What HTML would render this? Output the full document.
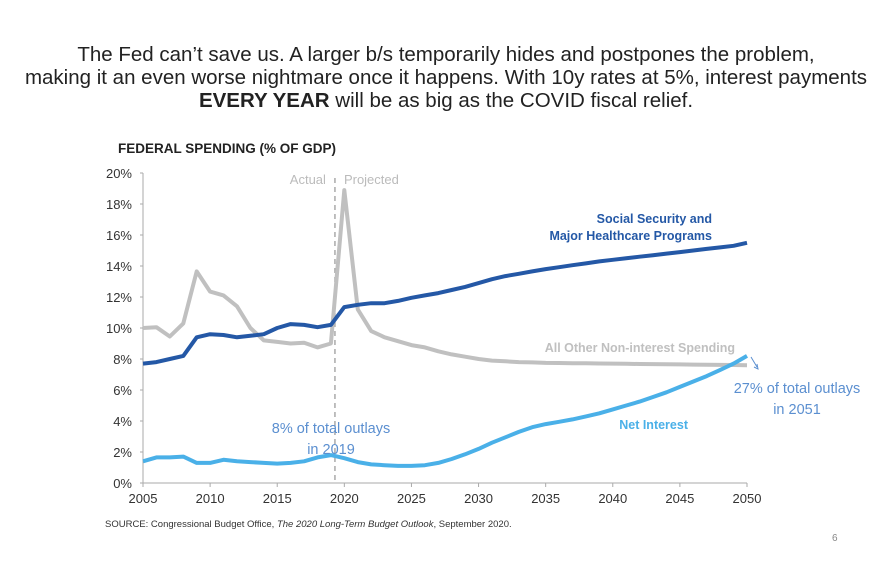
<!DOCTYPE html>
<html><head><meta charset="utf-8"><style>
body{margin:0;background:#fff;width:892px;height:576px;overflow:hidden;font-family:"Liberation Sans",sans-serif}
.t{position:absolute;left:-20px;width:932px;text-align:center;font-size:20.5px;color:#222;line-height:23px}
</style></head><body>
<div class="t" style="top:43px">The Fed can’t save us. A larger b/s temporarily hides and postpones the problem,<br>making it an even worse nightmare once it happens. With 10y rates at 5%, interest payments<br><b>EVERY YEAR</b> will be as big as the COVID fiscal relief.</div>
<svg id="c" width="892" height="576" style="position:absolute;left:0;top:0" font-family="Liberation Sans, sans-serif"></svg>
<script>
const years=[];for(let y=2005;y<=2050;y++)years.push(y);
const ssh=[7.7,7.8,8.0,8.2,9.4,9.6,9.55,9.4,9.5,9.6,10.0,10.25,10.2,10.05,10.2,11.35,11.5,11.6,11.6,11.75,11.95,12.1,12.25,12.45,12.65,12.9,13.15,13.35,13.5,13.65,13.8,13.92,14.05,14.17,14.3,14.4,14.5,14.6,14.7,14.8,14.9,15.0,15.1,15.2,15.3,15.5];
const other=[10.0,10.05,9.45,10.3,13.65,12.35,12.1,11.4,10.0,9.2,9.1,9.0,9.05,8.75,9.0,18.9,11.2,9.8,9.4,9.15,8.9,8.75,8.5,8.3,8.15,8.0,7.9,7.85,7.8,7.78,7.75,7.74,7.73,7.72,7.71,7.7,7.69,7.68,7.67,7.66,7.65,7.64,7.63,7.62,7.61,7.6];
const netInt=[1.4,1.65,1.65,1.7,1.3,1.3,1.5,1.4,1.35,1.3,1.25,1.3,1.4,1.65,1.8,1.6,1.35,1.2,1.15,1.1,1.1,1.15,1.3,1.55,1.85,2.2,2.6,2.95,3.3,3.6,3.8,3.95,4.1,4.3,4.5,4.75,5.0,5.25,5.55,5.85,6.2,6.55,6.9,7.3,7.7,8.2];
const yTicks=[0,2,4,6,8,10,12,14,16,18,20];
const xTicks=[2005,2010,2015,2020,2025,2030,2035,2040,2045,2050];
const X=y=>143+(y-2005)*(747-143)/45, Y=v=>483-v*(483-173)/20;
const svg=document.getElementById('c'),NS='http://www.w3.org/2000/svg';
function mk(t,a,txt){const e=document.createElementNS(NS,t);for(const k in a)e.setAttribute(k,a[k]);if(txt!=null)e.textContent=txt;svg.appendChild(e);return e;}
let e;
e=mk('line',{x1:143,y1:173,x2:143,y2:483,stroke:'#aaa','stroke-width':1});


e=mk('line',{x1:143,y1:483,x2:747,y2:483,stroke:'#aaa','stroke-width':1});


yTicks.forEach(v=>{
 e=mk('text',{x:132,y:Y(v)+5,'text-anchor':'end','font-size':13,fill:'#333'},v+'%');
 
 
 mk('line',{x1:140,y1:Y(v),x2:143,y2:Y(v),stroke:'#aaa'});
});
xTicks.forEach(v=>{
 e=mk('text',{x:X(v),y:503,'text-anchor':'middle','font-size':13,fill:'#333'},v);
 
 
 mk('line',{x1:X(v),y1:483,x2:X(v),y2:487,stroke:'#aaa'});
});
e=mk('line',{x1:X(2019.3),y1:178,x2:X(2019.3),y2:483,stroke:'#aaa','stroke-dasharray':'5,4','stroke-width':1.5});


e=mk('text',{x:X(2019.3)-9,y:184,'text-anchor':'end','font-size':13,fill:'#bbb'},'Actual');


e=mk('text',{x:X(2019.3)+9,y:184,'font-size':13,fill:'#bbb'},'Projected');


function line(arr,col,name){const d=arr.map((v,i)=>(i?'L':'M')+X(years[i]).toFixed(1)+','+Y(v).toFixed(1)).join('');
 const p=mk('path',{d:d,fill:'none',stroke:col,'stroke-width':4,'stroke-linejoin':'round'});
 
 }
line(other,'#c0c0c0','other-spending-line');
line(ssh,'#2458a6','social-security-line');
line(netInt,'#4ab0e8','net-interest-line');
e=mk('text',{x:712,y:223,'text-anchor':'end','font-size':12.5,'font-weight':'bold',fill:'#2458a6'},'Social Security and');


e=mk('text',{x:712,y:240,'text-anchor':'end','font-size':12.5,'font-weight':'bold',fill:'#2458a6'},'Major Healthcare Programs');


e=mk('text',{x:735,y:352,'text-anchor':'end','font-size':12.5,'font-weight':'bold',fill:'#c0c0c0'},'All Other Non-interest Spending');


e=mk('text',{x:688,y:429,'text-anchor':'end','font-size':12.5,'font-weight':'bold',fill:'#4ab0e8'},'Net Interest');


e=mk('text',{x:331,y:433,'text-anchor':'middle','font-size':14.5,fill:'#5b8fd0'},'8% of total outlays');


e=mk('text',{x:331,y:454,'text-anchor':'middle','font-size':14.5,fill:'#5b8fd0'},'in 2019');


e=mk('text',{x:797,y:393,'text-anchor':'middle','font-size':14.5,fill:'#5b8fd0'},'27% of total outlays');


e=mk('text',{x:797,y:414,'text-anchor':'middle','font-size':14.5,fill:'#5b8fd0'},'in 2051');


mk('path',{d:'M751,357 L757,367 M754,367 L758,369 L757,364',stroke:'#5b8fd0',fill:'none','stroke-width':1});
e=mk('text',{x:118,y:153,'font-size':13.5,'font-weight':'bold',fill:'#222'},'FEDERAL SPENDING (% OF GDP)');


e=mk('text',{x:105,y:527,'font-size':9.5,fill:'#333'},'SOURCE: Congressional Budget Office, ');


e.innerHTML='SOURCE: Congressional Budget Office, <tspan font-style="italic">The 2020 Long-Term Budget Outlook</tspan>, September 2020.';
e=mk('text',{x:832,y:541,'font-size':10,fill:'#888'},'6');


</script>
</body></html>
